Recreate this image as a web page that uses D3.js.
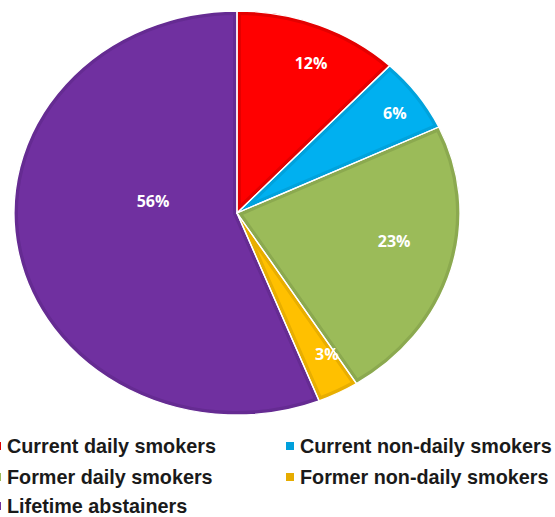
<!DOCTYPE html>
<html>
<head>
<meta charset="utf-8">
<script src="https://cdn.jsdelivr.net/npm/d3@7"></script>
<style>
  html, body { margin: 0; padding: 0; background: #fff; }
  svg { display: block; }
</style>
</head>
<body>
<svg id="chart" width="555" height="517"></svg>
<script>
// Smoking status shares (%)
const categories = [
  "Current daily smokers",
  "Current non-daily smokers",
  "Former daily smokers",
  "Former non-daily smokers",
  "Lifetime abstainers"
];
const values = [12, 6, 23, 3, 56];
const labels = ["12%", "6%", "23%", "3%", "56%"];
const fills = ["#ff0000", "#00b0f0", "#9bbb59", "#ffc000", "#7030a0"];
const edges = ["#e30000", "#00a2dc", "#8ba94f", "#e8ae00", "#652b92"];
const legendSwatch = ["#e00000", "#00a0dc", "#9bbb59", "#e6ac00", "#7030a0"];

// layout
const cx = 237, cy = 213;
const ry = 202, rx = 223;          // pie drawn slightly wider than tall
// label placement: fraction of radius and angular nudge (degrees) from slice middle
const labelRadius = [0.813, 0.864, 0.718, 0.808, 0.381];
const labelNudge = [2.5, 1.0, -5.1, -2.9, 19.8];

const svg = d3.select("#chart");
const defs = svg.append("defs");

const pie = d3.pie().value(d => d).sort(null);
const arcs = pie(values);
const arc = d3.arc().innerRadius(0).outerRadius(ry);

const g = svg.append("g")
  .attr("transform", `translate(${cx},${cy}) scale(${rx / ry},1)`);

arcs.forEach((a, i) => {
  const id = "clip" + i;
  defs.append("clipPath").attr("id", id)
    .append("path").attr("d", arc(a));
  g.append("path")
    .attr("d", arc(a))
    .attr("fill", fills[i])
    .attr("stroke", edges[i])
    .attr("stroke-width", 8)
    .attr("vector-effect", "non-scaling-stroke")
    .attr("clip-path", `url(#${id})`);
});

// thin white separators between slices
g.selectAll("path.sep")
  .data(arcs)
  .join("path")
  .attr("class", "sep")
  .attr("d", arc)
  .attr("fill", "none")
  .attr("stroke", "#ffffff")
  .attr("stroke-width", 1.3)
  .attr("vector-effect", "non-scaling-stroke");

// value labels
arcs.forEach((a, i) => {
  const mid = (a.startAngle + a.endAngle) / 2 + labelNudge[i] * Math.PI / 180;
  const r = ry * labelRadius[i];
  const x = cx + Math.sin(mid) * r * rx / ry;
  const y = cy - Math.cos(mid) * r;
  svg.append("text")
    .attr("x", x).attr("y", y + 6)
    .attr("text-anchor", "middle")
    .attr("font-family", "'Open Sans', 'DejaVu Sans', sans-serif")
    .attr("font-weight", "bold")
    .attr("font-size", 16)
    .attr("fill", "#ffffff")
    .text(labels[i]);
});

// legend, two columns
const colX = [-7, 286];
const rowY = [446, 477, 506];
const legend = svg.append("g");
categories.forEach((c, i) => {
  const col = i % 2, row = Math.floor(i / 2);
  const item = legend.append("g")
    .attr("transform", `translate(${colX[col]},${rowY[row]})`);
  item.append("rect")
    .attr("x", 0).attr("y", -4)
    .attr("width", 8).attr("height", 8)
    .attr("fill", legendSwatch[i]);
  item.append("text")
    .attr("x", 14).attr("y", 7)
    .attr("font-family", "'Liberation Sans', Arial, sans-serif")
    .attr("font-weight", "bold")
    .attr("font-size", 19.8)
    .attr("fill", "#1a1a1a")
    .text(c);
});
</script>
</body>
</html>
